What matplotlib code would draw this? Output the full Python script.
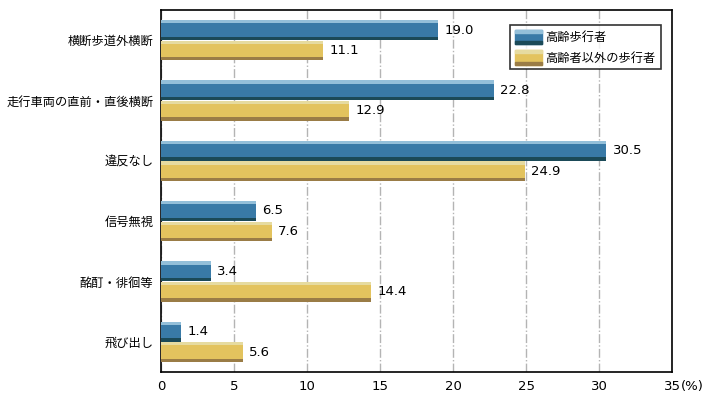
import matplotlib
matplotlib.use('Agg')
import matplotlib.pyplot as plt
from matplotlib.legend_handler import HandlerBase
from matplotlib.patches import Rectangle
import numpy as np

plt.rcParams['font.family'] = ['Noto Sans CJK JP', 'DejaVu Sans']

# データ
categories = ['横断歩道外横断', '走行車両の直前・直後横断', '違反なし', '信号無視', '酩酊・徘徊等', '飛び出し']
elderly = [19.0, 22.8, 30.5, 6.5, 3.4, 1.4]
others = [11.1, 12.9, 24.9, 7.6, 14.4, 5.6]
series_names = ['高齢歩行者', '高齢者以外の歩行者']
xticks = [0, 5, 10, 15, 20, 25, 30, 35]

# 色 (上の明るい線, 本体, 下の暗い線)
blue = ('#93bfd9', '#397aa7', '#1b4a58')
yellow = ('#e6dba0', '#e3c35e', '#9a7c46')

fig = plt.figure(figsize=(7.15, 4.04), dpi=100)
ax = fig.add_axes([0.2252, 0.0792, 0.7147, 0.8958])

y = np.arange(len(categories))
h = 0.33
edge = 0.055


def draw_bars(pos, vals, cols):
    ax.barh(pos, vals, height=h, color=cols[1], zorder=3)
    ax.barh(pos - h / 2 + edge / 2, vals, height=edge, color=cols[0], zorder=4)
    ax.barh(pos + h / 2 - edge / 2, vals, height=edge, color=cols[2], zorder=4)
    for p, v in zip(pos, vals):
        ax.annotate('%.1f' % v, (v, p), xytext=(4.5, 0), textcoords='offset points',
                    ha='left', va='center', fontsize=9.5, family='DejaVu Sans')


draw_bars(y - h / 2 - 0.005, elderly, blue)
draw_bars(y + h / 2 + 0.005, others, yellow)

ax.set_ylim(5.5, -0.5)
ax.set_xlim(0, 35)
ax.set_yticks(y)
ax.set_yticklabels(categories, fontsize=8.8)
ax.set_xticks(xticks)
ax.set_xticklabels([str(t) for t in xticks], fontsize=9.5, family='DejaVu Sans')
ax.annotate('(%)', xy=(35, 0), xycoords=('data', 'axes fraction'), xytext=(6.5, -5.5),
            textcoords='offset points', ha='left', va='top', fontsize=9.5, family='DejaVu Sans')
ax.tick_params(axis='y', length=0, pad=5.5)
ax.tick_params(axis='x', length=0, pad=5.5)
ax.grid(axis='x', color='#b4b4b4', linestyle='-.', linewidth=1, zorder=0)
for s in ax.spines.values():
    s.set_color('black')
    s.set_linewidth(1.2)


class StripeHandler(HandlerBase):
    def __init__(self, cols):
        super().__init__()
        self.cols = cols

    def create_artists(self, legend, orig_handle, xdescent, ydescent, width, height, fontsize, trans):
        e = height * 0.2
        r1 = Rectangle((-xdescent, -ydescent), width, height, color=self.cols[1], transform=trans)
        r2 = Rectangle((-xdescent, -ydescent + height - e), width, e, color=self.cols[0], transform=trans)
        r3 = Rectangle((-xdescent, -ydescent), width, e, color=self.cols[2], transform=trans)
        return [r1, r2, r3]


hb = Rectangle((0, 0), 1, 1)
hy = Rectangle((0, 0), 1, 1)
leg = ax.legend([hb, hy], series_names, handler_map={hb: StripeHandler(blue), hy: StripeHandler(yellow)},
                loc='upper right', bbox_to_anchor=(0.978, 0.958), fontsize=8.8, frameon=True,
                fancybox=False, edgecolor='black', handlelength=2.2, handleheight=1.4,
                borderpad=0.4, labelspacing=0.5, handletextpad=0.3, borderaxespad=0)
leg.get_frame().set_linewidth(1.2)

plt.savefig('out.png', dpi=100)
plt.close()
